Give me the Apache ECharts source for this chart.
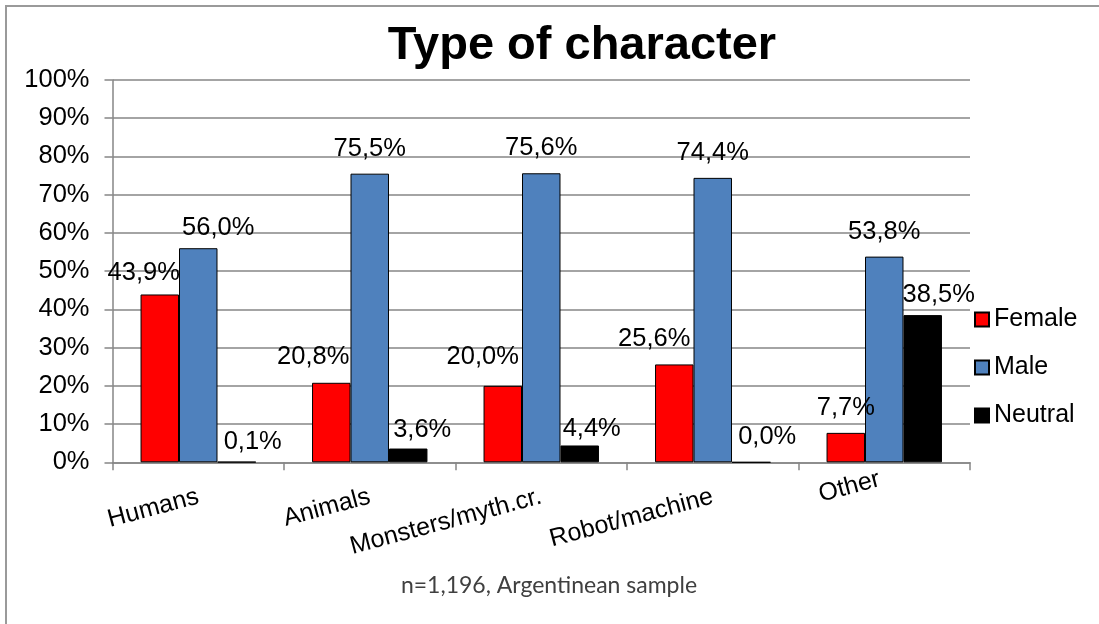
<!DOCTYPE html>
<html>
<head>
<meta charset="utf-8">
<script src="https://cdn.jsdelivr.net/npm/echarts@6/dist/echarts.min.js"></script>
<style>
html,body{margin:0;padding:0;background:#fff;}
#chart{width:1099px;height:624px;}
</style>
</head>
<body>
<div id="chart"></div>
<script>
const categories = ['Humans', 'Animals', 'Monsters/myth.cr.', 'Robot/machine', 'Other'];
const female = [43.9, 20.8, 20.0, 25.6, 7.7];
const male = [56.0, 75.5, 75.6, 74.4, 53.8];
const neutral = [0.1, 3.6, 4.4, 0.0, 38.5];
const yTicks = [0, 10, 20, 30, 40, 50, 60, 70, 80, 90, 100];
const titleText = 'Type of character';
const noteText = 'n=1,196, Argentinean sample';

// label nudges (style only), [dx, dy] per category
const femaleLabelNudge = [[-16, 3], [-18, -1], [-20, -4], [-20, 0], [0, 0]];
const maleLabelNudge = [[20, 5], [0, 0], [0, 0], [0, 0], [0, 0]];
const neutralLabelNudge = [[16, 5], [14, 6], [12, 8], [16, 0], [16, 5]];
// axis label styles per category index (style only): 'a' normal, 'b' raised
const catLabelStyle = ['a', 'a', 'a', 'a', 'b'];

const FONT = 'Liberation Sans, Arial, sans-serif';
const fmt = v => v.toFixed(1).replace('.', ',') + '%';

function build(values, nudges) {
  return values.map((v, i) => ({ value: v, label: { offset: nudges[i] } }));
}

function series(name, values, nudges, color) {
  return {
    name: name,
    type: 'bar',
    data: build(values, nudges),
    barGap: '0%',
    barCategoryGap: '32.7%',
    itemStyle: { color: color, borderColor: '#000', borderWidth: 1 },
    label: {
      show: true,
      position: 'top',
      distance: 12,
      fontFamily: FONT,
      fontSize: 25.5,
      color: '#000',
      formatter: p => fmt(p.value)
    },
    emphasis: { disabled: true }
  };
}

const chart = echarts.init(document.getElementById('chart'), null, { renderer: 'canvas' });
chart.setOption({
  animation: false,
  backgroundColor: '#fff',
  grid: { left: 112.5, right: 129, top: 80, bottom: 161.7, containLabel: false },
  legend: {
    orient: 'vertical',
    left: 969,
    top: 302,
    itemWidth: 14,
    itemHeight: 14,
    itemGap: 23,
    icon: 'rect',
    textStyle: { fontFamily: FONT, fontSize: 25, color: '#000' },
    data: ['Female', 'Male', 'Neutral']
  },
  xAxis: {
    type: 'category',
    data: categories,
    axisLine: { lineStyle: { color: '#868686', width: 1.5 } },
    axisTick: { show: true, length: 8, lineStyle: { color: '#868686', width: 1.5 } },
    axisLabel: {
      interval: 0, rotate: 15, margin: 34, fontFamily: FONT, fontSize: 25, color: '#000',
      formatter: (v, i) => '{' + catLabelStyle[i] + '|' + v + '}',
      rich: {
        a: { fontFamily: FONT, fontSize: 25, color: '#000' },
        b: { fontFamily: FONT, fontSize: 25, color: '#000', padding: [0, 0, 36, 0] }
      }
    }
  },
  yAxis: {
    type: 'value',
    min: yTicks[0],
    max: yTicks[yTicks.length - 1],
    interval: yTicks[1] - yTicks[0],
    axisLine: { show: true, lineStyle: { color: '#868686', width: 1.5 } },
    axisTick: { show: true, length: 8, lineStyle: { color: '#868686', width: 1.5 } },
    splitLine: { lineStyle: { color: '#868686', width: 1.5 } },
    axisLabel: { margin: 23, fontFamily: FONT, fontSize: 25.5, color: '#000', formatter: '{value}%' }
  },
  series: [
    series('Female', female, femaleLabelNudge, '#FF0000'),
    series('Male', male, maleLabelNudge, '#4F81BD'),
    series('Neutral', neutral, neutralLabelNudge, '#000000')
  ],
  graphic: [
    { type: 'rect', shape: { x: 6, y: 6, width: 1200, height: 800 }, style: { fill: 'none', stroke: '#9a9a9a', lineWidth: 2 }, silent: true, z: -1 },
    { type: 'text', x: 582, y: 46, style: { text: titleText, font: 'bold 47px ' + FONT, fill: '#000', textAlign: 'center', textVerticalAlign: 'middle' } },
    { type: 'text', x: 549, y: 586, style: { text: noteText, font: '23px Lato, Open Sans, sans-serif', fill: '#404040', textAlign: 'center', textVerticalAlign: 'middle' } }
  ]
});
</script>
</body>
</html>
